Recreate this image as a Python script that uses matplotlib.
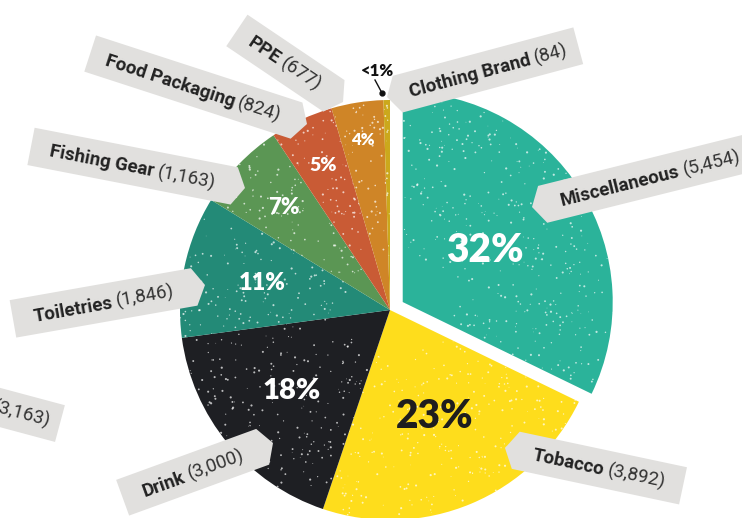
import numpy as np
import matplotlib
matplotlib.use("Agg")
from matplotlib import pyplot as plt
from matplotlib.patches import Polygon

W, H = 742, 518

# litter counts by category
categories = ["Miscellaneous", "Tobacco", "Drink", "Toiletries", "Fishing Gear",
              "Food Packaging", "PPE", "Clothing Brand"]
counts = [5454, 3892, 3000, 1846, 1163, 824, 677, 84]
colors = ["#2bb39a", "#fedd1c", "#1e1f23", "#238a77", "#5b9654",
          "#c95b35", "#cf8527", "#cba81c"]
pct_color = ["white", "#1e1e1e", "white", "white", "white", "white", "white", "#1e1e1e"]

# neighbouring label from the next chart, only partly in frame
side_label = "(3,163)"

# layout: tag tip (px, y down), direction of tag in degrees, tag length
tags = [
    ((532, 207), 14, 232),
    ((505, 448), -12, 182),
    ((273, 443), 200, 160),
    ((205, 285), 190, 195),
    ((245, 188), 169, 218),
    ((307, 124), 162, 228),
    ((343, 102), 146, 128),
    ((387, 97), 15, 198),
]
pct_dist = [0.46, 0.55, 0.61, 0.62, 0.70, 0.76, 0.82, None]
pct_size = [28, 28, 21, 17, 16, 14, 12, None]

TAG = "#e1e0de"
INK = "#222222"
PT, HH = 11, 19

fig = plt.figure(figsize=(W / 100, H / 100), dpi=100)
ax = fig.add_axes([0, 0, 1, 1])

cx, cy, R = 390, H - 310, 210
# explode is in data units here (pixels), since the radius is not 1
explode = [15] + [0] * (len(counts) - 1)
wedges, _ = ax.pie(counts, colors=colors, startangle=90, counterclock=False,
                   radius=R, center=(cx, cy), explode=explode,
                   wedgeprops=dict(linewidth=0))
ax.set_xlim(0, W)
ax.set_ylim(0, H)
ax.set_aspect("equal")
ax.axis("off")

# worn print texture
rng = np.random.default_rng(7)
for w in wedges:
    lo, hi = min(w.theta1, w.theta2), max(w.theta1, w.theta2)
    n = int(3 * (hi - lo)) + 10
    ang = np.radians(rng.uniform(lo, hi, n))
    rr = R * np.sqrt(rng.uniform(0.05, 1, n))
    xs = w.center[0] + rr * np.cos(ang)
    ys = w.center[1] + rr * np.sin(ang)
    sc = ax.scatter(xs, ys, s=rng.uniform(0.2, 2.5, n), c="white", alpha=0.7,
                    linewidths=0, zorder=3)
    sc.set_clip_path(w)

# percentage labels
total = sum(counts)
for w, v, d, fs, col in zip(wedges, counts, pct_dist, pct_size, pct_color):
    if d is None:
        continue
    mid = np.radians((w.theta1 + w.theta2) / 2)
    x = w.center[0] + d * R * np.cos(mid)
    y = w.center[1] + d * R * np.sin(mid)
    ax.text(x, y, f"{round(100 * v / total)}%", ha="center", va="center",
            fontsize=fs, fontweight="heavy", family="Lato", color=col, zorder=4)

# the smallest slice gets a pointer instead
ax.text(378, H - 71, "<1%", ha="center", va="center", fontsize=12,
        fontweight="heavy", family="Lato", color="#111111", zorder=6)
ax.plot([375, 382], [H - 80, H - 93], color="#111111", lw=1, zorder=6)
ax.plot([382], [H - 93], "o", color="#111111", ms=3.5, zorder=6)

fig.canvas.draw()
rend = fig.canvas.get_renderer()


def text_width(s, **kw):
    t = ax.text(0, 0, s, **kw)
    wd = t.get_window_extent(rend).width
    t.remove()
    return wd


bold = dict(fontsize=13.5, fontweight="bold", family="Roboto", color=INK)
light = dict(fontsize=13.5, fontweight="normal", family="Roboto", color="#333333")


def draw_tag(tip, ang, length, name, num, align="center"):
    p0 = np.array([tip[0], H - tip[1]], dtype=float)
    a = np.radians(ang)
    u = np.array([np.cos(a), np.sin(a)])
    v = np.array([-u[1], u[0]])
    pts = [p0, p0 + u * PT + v * HH, p0 + u * length + v * HH,
           p0 + u * length - v * HH, p0 + u * PT - v * HH]
    ax.add_patch(Polygon(pts, closed=True, fc=TAG, ec="none", zorder=5))

    if u[0] < 0:
        d, rot = -u, ang - 180
    else:
        d, rot = u, ang
    n = np.array([-d[1], d[0]])
    w1 = text_width(name, **bold) if name else 0
    gap = 4 if name else 0
    w2 = text_width(num, **light)
    tw = w1 + gap + w2
    if align == "center":
        c = p0 + u * (PT + (length - PT) / 2)
        start = c - d * tw / 2
    else:
        start = p0 + u * length - d * (10 + tw)
    start = start - n * 6.5
    if name:
        ax.text(*start, name, rotation=rot, rotation_mode="anchor", ha="left",
                va="baseline", zorder=6, **bold)
    s2 = start + d * (w1 + gap)
    ax.text(*s2, num, rotation=rot, rotation_mode="anchor", ha="left",
            va="baseline", zorder=6, **light)


for (tip, ang, length), name, v in zip(tags, categories, counts):
    draw_tag(tip, ang, length, name, f"({v:,})")

draw_tag((-140, 370), -15, 207, "", side_label, align="end")

fig.savefig("out.png", dpi=100, facecolor="white")
